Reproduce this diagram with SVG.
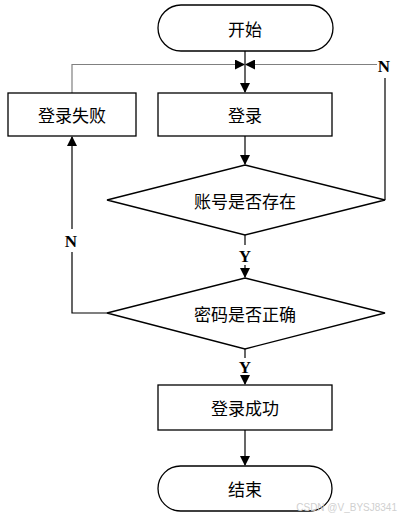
<svg xmlns="http://www.w3.org/2000/svg" width="400" height="519" viewBox="0 0 400 519">
<style>
.s{fill:#fff;stroke:#000;stroke-width:1.3}
.t{font-family:"Noto Sans CJK SC","Liberation Serif",serif;font-size:17px;text-anchor:middle;dominant-baseline:central;fill:#000}
.l{font-family:"Liberation Serif",serif;font-size:17px;font-weight:bold;text-anchor:middle;dominant-baseline:central;fill:#000}
.c{fill:none;stroke:#000;stroke-width:1.2}
.g{fill:none;stroke:#808080;stroke-width:1.2}
.w{font-family:"Liberation Sans",sans-serif;font-size:10px;fill:#d0d0d0;text-anchor:end}
</style>
<defs>
<marker id="a" markerWidth="10" markerHeight="10" refX="9" refY="5" orient="auto" markerUnits="userSpaceOnUse">
<path d="M0,0 L10,5 L0,10 Z" fill="#000"/>
</marker>
</defs>
<rect width="400" height="519" fill="#fff"/>
<g id="connectors">
<path class="c" d="M245,51 V92" marker-end="url(#a)"/>
<path class="g" d="M72,93 V64.5 H245"/>
<path class="c" d="M235,64.5 H244" marker-end="url(#a)"/>
<path class="g" d="M377,64.5 H245"/>
<path class="c" d="M255,64.5 H246" marker-end="url(#a)"/>
<path class="c" d="M385,200 V78"/>
<path class="c" d="M245,136 V164" marker-end="url(#a)"/>
<path class="c" d="M245,235 V245"/>
<path class="c" d="M245,265 V277" marker-end="url(#a)"/>
<path class="c" d="M107,313 H72 V252"/>
<path class="c" d="M72,229 V137" marker-end="url(#a)"/>
<path class="c" d="M245,349 V358"/>
<path class="c" d="M245,377 V384" marker-end="url(#a)"/>
<path class="c" d="M245,430 V465" marker-end="url(#a)"/>
<text class="l" x="384" y="66">N</text>
<text class="l" x="245" y="256">Y</text>
<text class="l" x="71" y="241">N</text>
<text class="l" x="245" y="367">Y</text>
</g>
<g id="start">
<rect class="s" x="158" y="5" width="175" height="46" rx="23"/>
<text class="t" x="245" y="28">开始</text>
</g>
<g id="loginfail">
<rect class="s" x="8" y="93" width="128" height="43"/>
<text class="t" x="72" y="114.5">登录失败</text>
</g>
<g id="login">
<rect class="s" x="158" y="93" width="174" height="43"/>
<text class="t" x="245" y="114.5">登录</text>
</g>
<g id="check1">
<polygon class="s" points="245,165 385,200 245,235 107,200"/>
<text class="t" x="245" y="200">账号是否存在</text>
</g>
<g id="check2">
<polygon class="s" points="245,278 385,313 245,349 107,313"/>
<text class="t" x="245" y="313">密码是否正确</text>
</g>
<g id="success">
<rect class="s" x="158" y="385" width="174" height="45"/>
<text class="t" x="245" y="407.5">登录成功</text>
</g>
<g id="end">
<rect class="s" x="158" y="466" width="174" height="45" rx="22.5"/>
<text class="t" x="245" y="488.5">结束</text>
</g>
<text class="w" x="397" y="511">CSDN @V_BYSJ8341</text>
</svg>
